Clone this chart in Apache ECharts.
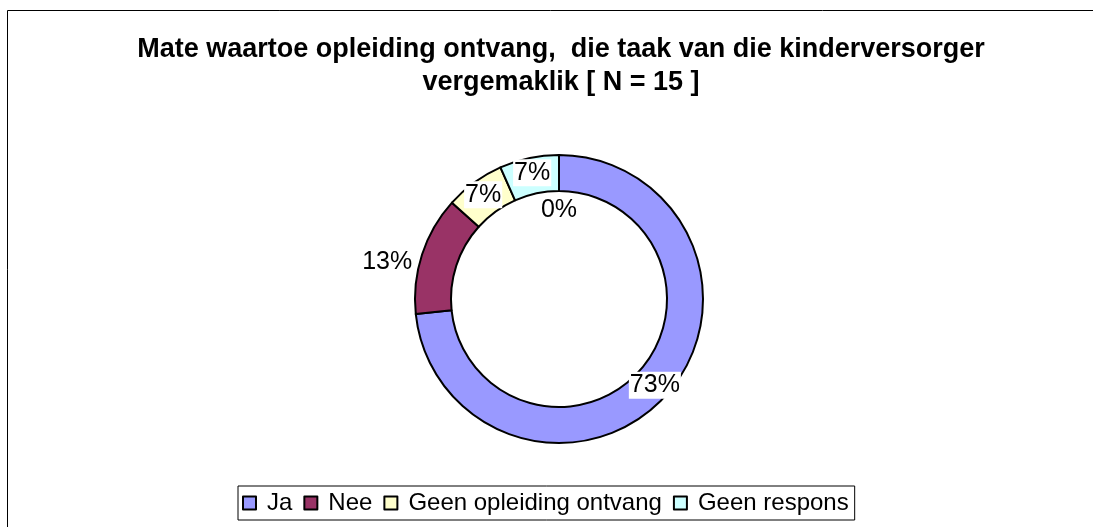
<!DOCTYPE html>
<html>
<head>
<meta charset="utf-8">
<script src="https://cdn.jsdelivr.net/npm/echarts@6/dist/echarts.min.js"></script>
<style>
  html, body { margin: 0; padding: 0; background: #fff; }
  #chart { width: 1093px; height: 527px; }
</style>
</head>
<body>
<div id="chart"></div>
<script>
// data
var categories = ["Ja", "Nee", "Geen opleiding ontvang", "Geen respons", ""];
var counts = [11, 2, 1, 1, 0];
var colors = ["#9999FF", "#993366", "#FFFFCC", "#CCFFFF", "#FFFFFF"];

var font = "'Liberation Sans', Arial, sans-serif";

var pieData = [];
for (var i = 0; i < categories.length; i++) {
  var item = {
    name: categories[i],
    value: counts[i],
    itemStyle: { color: colors[i] }
  };
  pieData.push(item);
}
// label placement like the original
pieData[1].label = { position: "outside", offset: [0, 9] };
pieData[1].labelLine = { show: false, length: 4, length2: 0 };
pieData[4].label = { position: "inside", offset: [0, 40], backgroundColor: "transparent" };

var chart = echarts.init(document.getElementById("chart"));
chart.setOption({
  backgroundColor: "#fff",
  animation: false,
  title: {
    text: "Mate waartoe opleiding ontvang,  die taak van die kinderversorger\nvergemaklik [ N = 15 ]",
    left: 556,
    top: 28,
    textAlign: "center",
    textStyle: {
      fontFamily: font,
      fontSize: 27,
      fontWeight: "bold",
      color: "#000",
      lineHeight: 33
    }
  },
  legend: {
    data: categories.slice(0, 4),
    left: 238,
    top: 486,
    orient: "horizontal",
    icon: "rect",
    itemWidth: 13,
    itemHeight: 13,
    itemGap: 11,
    padding: [4, 6, 4, 4],
    borderColor: "#000",
    borderWidth: 1,
    itemStyle: { borderColor: "#000", borderWidth: 2 },
    textStyle: { fontFamily: font, fontSize: 24, color: "#000", padding: [0, 0, 0, 6], lineHeight: 26 }
  },
  graphic: [
    {
      type: "rect",
      shape: { x: 7.5, y: 10.5, width: 1200, height: 600 },
      style: { fill: "none", stroke: "#000", lineWidth: 1 },
      silent: true
    }
  ],
  series: [
    {
      type: "pie",
      center: [559, 299],
      radius: [108, 144],
      startAngle: 90,
      clockwise: true,
      avoidLabelOverlap: false,
      percentPrecision: 0,
      itemStyle: { borderColor: "#000", borderWidth: 2 },
      label: {
        show: true,
        position: "inside",
        formatter: "{d}%",
        fontFamily: font,
        fontSize: 25,
        color: "#000",
        backgroundColor: "#fff",
        padding: [2, 1, 0, 1]
      },
      emphasis: { disabled: true },
      data: pieData
    }
  ]
});
</script>
</body>
</html>
